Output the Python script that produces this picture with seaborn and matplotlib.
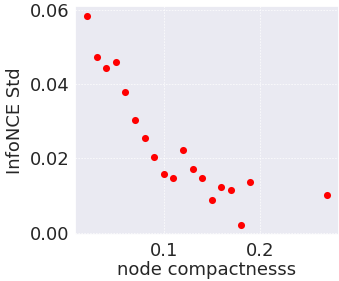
import matplotlib
matplotlib.use("Agg")
import matplotlib.pyplot as plt
import seaborn as sns
import pandas as pd

compactness = [0.02, 0.03, 0.04, 0.05, 0.06, 0.07, 0.08, 0.09, 0.10, 0.11,
               0.12, 0.13, 0.14, 0.15, 0.16, 0.17, 0.18, 0.19, 0.27]
infonce_std = [0.0583, 0.0474, 0.0443, 0.0461, 0.0380, 0.0303, 0.0255, 0.0205,
               0.0159, 0.0147, 0.0224, 0.0171, 0.0146, 0.0087, 0.0122, 0.0114,
               0.0022, 0.0137, 0.0102]

df = pd.DataFrame({"x": compactness, "y": infonce_std})

sns.set_theme(style="darkgrid")
plt.rcParams['font.family'] = ['DejaVu Sans']

fig = plt.figure(figsize=(3.39, 2.81), dpi=100)
ax = fig.add_axes([0.221, 0.164, 0.779, 0.815])
sns.scatterplot(data=df, x="x", y="y", color="red", s=26, linewidth=0, ax=ax)
ax.grid(True, color="white", linestyle=(0, (2, 1.5)), linewidth=0.6, alpha=0.8)
ax.set_xticks([0.1, 0.2])
ax.set_yticks([0.0, 0.02, 0.04, 0.06])
ax.set_xticklabels(["0.1", "0.2"])
ax.set_yticklabels(["0.00", "0.02", "0.04", "0.06"])
ax.tick_params(axis="both", labelsize=13, length=0)
ax.tick_params(axis="x", pad=5)
ax.tick_params(axis="y", pad=4)
ax.set_xlabel("node compactnesss", fontsize=13, labelpad=1)
ax.set_ylabel("InfoNCE Std", fontsize=13, labelpad=4)
fig.savefig("out.png", dpi=100)
